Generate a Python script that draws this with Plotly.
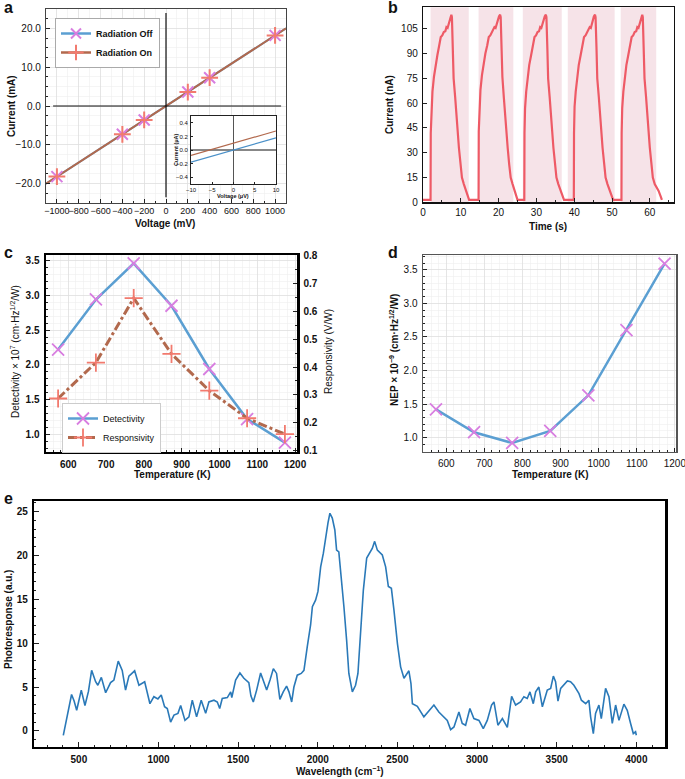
import plotly.graph_objects as go

FONT = "Liberation Sans, Arial, Helvetica, sans-serif"
W, H = 685, 779

# ---------------- data ----------------
# panel a
volt_line = [-1100, 1100]
curr_line = [-20.0, 20.0]
volt_pts = [-1000, -400, -200, 200, 400, 1000]
curr_pts = [-18.2, -7.3, -3.6, 3.6, 7.3, 18.2]
# inset
inset_v = [-10, 10]
inset_off = [-0.18, 0.18]
inset_on = [-0.08, 0.28]

# panel b
time_b = [0.0, 1.95,
          2.0, 2.05, 2.2, 2.5, 2.9, 3.3, 3.8, 4.3, 4.7, 5.1, 5.5, 5.9, 6.2, 6.5, 6.8, 7.1, 7.3, 7.5, 7.65, 7.9, 8.1, 8.5, 8.9, 9.2, 9.5, 9.9, 10.3, 10.8, 11.3, 11.8, 12.2,
          14.6,
          14.7, 14.75, 14.9, 15.2, 15.6, 16.0, 16.5, 17.0, 17.4, 17.8, 18.2, 18.6, 18.9, 19.2, 19.5, 19.8, 20.1, 20.4, 20.55, 20.8, 21.0, 21.4, 21.8, 22.1, 22.4, 22.8, 23.2, 23.7, 24.2, 24.6, 25.0,
          26.7,
          26.8, 26.85, 27.0, 27.3, 27.7, 28.1, 28.6, 29.1, 29.5, 29.9, 30.3, 30.7, 31.0, 31.3, 31.6, 31.9, 32.2, 32.5, 32.65, 32.9, 33.1, 33.5, 33.9, 34.2, 34.5, 34.9, 35.3, 35.8, 36.3, 36.8, 37.3,
          39.8,
          39.9, 39.95, 40.1, 40.4, 40.8, 41.2, 41.7, 42.2, 42.6, 43.0, 43.4, 43.8, 44.1, 44.4, 44.7, 45.0, 45.2, 45.5, 45.65, 45.9, 46.1, 46.5, 46.9, 47.2, 47.5, 47.9, 48.3, 48.8, 49.3, 49.8, 50.3,
          52.4,
          52.5, 52.55, 52.7, 53.0, 53.4, 53.8, 54.3, 54.8, 55.2, 55.6, 56.0, 56.4, 56.7, 57.0, 57.3, 57.6, 57.8, 58.0, 58.15, 58.4, 58.6, 59.0, 59.4, 59.7, 60.0, 60.4, 60.8, 61.3, 61.8, 62.3, 62.8, 63.2]
current_b = [1.5, 1.5,
             1.5, 42, 57, 67, 76, 83, 89, 95, 100, 101, 103, 103.5, 106, 105.5, 108.5, 110, 112.5, 113.5, 112, 93, 75, 64, 50, 38, 33, 24, 15, 11, 8, 4.5, 1.5,
             1.5,
             1.5, 43, 57, 68, 77, 84, 90, 95, 100, 101, 103, 104, 106, 105.5, 108, 110, 112.5, 113.5, 112, 92, 76, 63, 50, 39, 33, 23, 15, 11, 7.5, 4, 1.5,
             1.5,
             1.5, 42, 57, 67, 76, 83, 89, 95, 100, 101, 103, 103.5, 106, 105.5, 108.5, 110, 112.5, 113.5, 112, 93, 75, 64, 50, 38, 33, 24, 15, 11, 8, 4.5, 1.5,
             1.5,
             1.5, 42, 58, 67, 76, 83, 89, 95, 100, 101, 103, 104, 106, 105.5, 108.5, 110, 112.5, 113.5, 112, 93, 75, 64, 50, 38, 33, 24, 15, 11, 8, 4.5, 1.5,
             1.5,
             1.5, 42, 57, 67, 76, 83, 89, 95, 100, 101, 103, 103.5, 106, 105.5, 108.5, 110, 112.5, 113.5, 112, 93, 75, 64, 50, 38, 33, 24, 15, 11, 9, 7, 4, 1.5]
light_on = [2.0, 14.7, 26.4, 38.3, 52.3]
light_off = [12.1, 23.9, 36.7, 50.7, 61.7]

# panel c / d
temperature = [573, 673, 773, 873, 973, 1073, 1173]
detectivity = [2.22, 2.94, 3.46, 2.85, 1.94, 1.22, 0.88]
responsivity = [0.287, 0.416, 0.647, 0.447, 0.315, 0.216, 0.159]
nep = [1.42, 1.08, 0.92, 1.10, 1.63, 2.60, 3.59]

# panel e
wavenumber = [402, 454, 470, 486, 515, 538, 560, 580, 605, 619, 641, 668, 699, 720, 747, 772, 793, 814, 850,
              877, 913, 946, 971, 996, 1017, 1038, 1055, 1076, 1097, 1122, 1139, 1166, 1191, 1212, 1239, 1268,
              1296, 1316, 1348, 1369, 1384, 1400, 1432, 1453, 1460, 1484, 1511, 1536, 1567, 1580, 1595, 1616,
              1641, 1655, 1679, 1700, 1721, 1741, 1762, 1783, 1804, 1819, 1836, 1850, 1871, 1896, 1913, 1934,
              1955, 1966, 1986, 2001, 2018, 2035, 2049, 2064, 2076, 2091, 2107, 2118, 2132, 2143, 2164, 2181,
              2195, 2217, 2237, 2252, 2269, 2286, 2307, 2327, 2342, 2357, 2374, 2405, 2426, 2443, 2462, 2478,
              2500, 2520, 2541, 2572, 2585, 2594, 2625, 2666, 2698, 2729, 2760, 2792, 2813, 2834, 2855, 2886,
              2907, 2928, 2955, 2980, 3012, 3039, 3064, 3091, 3106, 3131, 3159, 3190, 3217, 3242, 3273, 3294,
              3315, 3332, 3353, 3368, 3388, 3410, 3441, 3462, 3479, 3493, 3508, 3525, 3545, 3567, 3587, 3608,
              3640, 3655, 3682, 3702, 3713, 3730, 3744, 3765, 3780, 3807, 3828, 3849, 3870, 3891, 3922, 3943,
              3964, 3981, 3995, 4000]
photoresponse = [-0.5, 4.15, 3.4, 2.36, 4.65, 2.9, 4.5, 6.9, 5.6, 5.2, 6.1, 4.35, 5.5, 5.8, 7.95, 6.9, 4.65, 6.25, 6.85,
                 5.2, 5.6, 3.1, 3.9, 3.65, 4.1, 2.75, 2.55, 1.0, 1.8, 2.0, 2.9, 1.2, 1.6, 3.5, 1.6, 3.5,
                 2.0, 3.3, 3.5, 3.3, 2.55, 3.7, 3.8, 4.45, 3.8, 5.8, 6.6, 6.0, 5.5, 4.0, 3.3, 4.65,
                 6.6, 5.8, 4.65, 5.8, 7.1, 6.55, 3.6, 4.45, 5.1, 4.45, 3.3, 5.0, 6.35, 6.55, 6.9, 9.6,
                 12.1, 14.15, 14.9, 15.9, 18.7, 20.25, 22.15, 23.7, 24.8, 24.25, 22.9, 20.6, 20.4, 18.35, 14.15, 10.35,
                 6.55, 4.45, 5.2, 6.55, 11.1, 16.05, 19.7, 20.25, 20.8, 21.6, 20.6, 20.05, 18.7, 16.45, 16.25, 13.8,
                 9.95, 7.3, 6.0, 6.85, 5.4, 3.1, 2.8, 1.6, 2.35, 2.95, 2.15, 1.6, 1.2, 0.15, 0.45, 2.15,
                 0.85, 0.65, 2.55, 1.4, 1.2, 0.25, 1.2, 2.95, 3.3, 0.65, 1.4, 0.4, 3.95, 2.95, 3.3, 3.9,
                 3.7, 4.45, 3.1, 4.45, 5.0, 2.75, 4.65, 4.85, 6.25, 5.6, 3.4, 4.85, 5.2, 5.7, 5.6, 5.2,
                 4.25, 3.5, 3.1, 3.5, 1.6, -0.3, 2.0, 2.95, 1.4, 4.85, 3.9, 0.85, 2.95, 1.2, 3.05, 2.35,
                 0.85, -0.3, -0.1, -0.5]

# ---------------- styling ----------------
BLUE = "#5b9fd2"
BROWN = "#b2694d"
ORCHID = "#d87ee0"
SALMON = "#f27a6e"
RED = "#ee5a66"
SPEC = "#2a79b8"
GRID = "#dedede"
MINOR_GRID = "#efefef"


def dom_x(p0, p1):
    return [p0 / W, p1 / W]


def dom_y(p0, p1):
    return [1 - p1 / H, 1 - p0 / H]


fig = go.Figure()

# ---- panel a ----
fig.add_trace(go.Scatter(x=volt_line, y=curr_line, mode="lines", line=dict(color=BLUE, width=2),
                         xaxis="x", yaxis="y", showlegend=False))
fig.add_trace(go.Scatter(x=volt_line, y=curr_line, mode="lines", line=dict(color=BROWN, width=2),
                         xaxis="x", yaxis="y", showlegend=False))
fig.add_trace(go.Scatter(x=volt_pts, y=curr_pts, mode="markers",
                         marker=dict(symbol="x-thin", size=11, line=dict(color=ORCHID, width=2)),
                         xaxis="x", yaxis="y", showlegend=False))
fig.add_trace(go.Scatter(x=volt_pts, y=curr_pts, mode="markers",
                         marker=dict(symbol="cross-thin", size=12, line=dict(color=SALMON, width=2)),
                         xaxis="x", yaxis="y", showlegend=False))
fig.add_trace(go.Scatter(x=[None], y=[None], mode="lines+markers", name="Radiation Off",
                         line=dict(color=BLUE, width=2.5),
                         marker=dict(symbol="x-thin", size=10, line=dict(color=ORCHID, width=2)),
                         xaxis="x", yaxis="y", legend="legend"))
fig.add_trace(go.Scatter(x=[None], y=[None], mode="lines+markers", name="Radiation On",
                         line=dict(color=BROWN, width=2.5),
                         marker=dict(symbol="cross-thin", size=11, line=dict(color=SALMON, width=2)),
                         xaxis="x", yaxis="y", legend="legend"))

# ---- panel b ----
fig.add_trace(go.Scatter(x=time_b, y=current_b, mode="lines", line=dict(color=RED, width=2.2),
                         xaxis="x2", yaxis="y2", showlegend=False))

# ---- panel c ----
fig.add_trace(go.Scatter(x=temperature, y=detectivity, mode="lines+markers", name="Detectivity",
                         line=dict(color=BLUE, width=2.5),
                         marker=dict(symbol="x-thin", size=12, line=dict(color=ORCHID, width=1.8)),
                         xaxis="x3", yaxis="y3", legend="legend2"))
fig.add_trace(go.Scatter(x=temperature, y=responsivity, mode="lines+markers", name="Responsivity",
                         line=dict(color=BROWN, width=3, dash="dashdot"),
                         marker=dict(symbol="cross-thin", size=13, line=dict(color=SALMON, width=1.8)),
                         xaxis="x3", yaxis="y4", legend="legend2"))

# ---- panel d ----
fig.add_trace(go.Scatter(x=temperature, y=nep, mode="lines+markers",
                         line=dict(color=BLUE, width=2.5),
                         marker=dict(symbol="x-thin", size=12, line=dict(color=ORCHID, width=1.8)),
                         xaxis="x4", yaxis="y5", showlegend=False))

# ---- panel e ----
fig.add_trace(go.Scatter(x=wavenumber, y=photoresponse, mode="lines", line=dict(color=SPEC, width=1.6),
                         xaxis="x5", yaxis="y6", showlegend=False))

# ---- inset ----
fig.add_trace(go.Scatter(x=inset_v, y=inset_off, mode="lines", line=dict(color="#4a90c8", width=1.2),
                         xaxis="x6", yaxis="y7", showlegend=False))
fig.add_trace(go.Scatter(x=inset_v, y=inset_on, mode="lines", line=dict(color=BROWN, width=1.2),
                         xaxis="x6", yaxis="y7", showlegend=False))

tickfont = dict(family=FONT, size=10, color="#111")
tickfont_b = dict(family=FONT, size=10, color="#111", weight="bold")
tickfont_s = dict(family=FONT, size=6, color="#111")


def ax(domain, rng, dtick, anchor, linecolor="#333", linewidth=1.2, grid=False, minor_dtick=None,
       font=tickfont, fmt=None, ticklen=4, side=None, mirror=True, tick0=None, standoff=2):
    d = dict(domain=domain, range=rng, dtick=dtick, anchor=anchor, showline=True, linecolor=linecolor,
             linewidth=linewidth, mirror=mirror, ticks="inside", ticklen=ticklen, tickwidth=1,
             tickcolor="#222", tickfont=font, showgrid=grid, gridcolor=GRID, gridwidth=0.8,
             zeroline=False, ticklabelstandoff=standoff, automargin=False, tickangle=0,
             ticklabeloverflow="allow")
    if tick0 is not None:
        d["tick0"] = tick0
    if fmt:
        d["tickformat"] = fmt
    if side:
        d["side"] = side
    if minor_dtick:
        d["minor"] = dict(dtick=minor_dtick, ticks="inside", ticklen=2, tickcolor="#222",
                          showgrid=grid, gridcolor=MINOR_GRID, gridwidth=0.6)
    return d


layout = dict(
    width=W, height=H, margin=dict(l=0, r=0, t=0, b=0, autoexpand=False),
    paper_bgcolor="white", plot_bgcolor="white",
    font=dict(family=FONT, size=10, color="#111"),
    # a
    xaxis=ax(dom_x(46, 286), [-1100, 1100], 200, "y", linecolor="#444", grid=True, minor_dtick=100, tick0=0,
             font=dict(family=FONT, size=9, color="#111"), standoff=-1),
    yaxis=ax(dom_y(9, 203), [-25, 25], 10, "x", linecolor="#444", grid=True, minor_dtick=2.5, fmt=".1f", tick0=0),
    # b
    xaxis2=ax(dom_x(423, 674), [0, 66.4], 10, "y2", linecolor="#111", minor_dtick=5, tick0=0, standoff=0),
    yaxis2=ax(dom_y(7.3, 202.3), [0, 118], 15, "x2", linecolor="#111", tick0=0),
    # c
    xaxis3=ax(dom_x(46, 297), [541, 1205], 100, "y3", linecolor="#000", linewidth=2.5, grid=True,
              minor_dtick=20, font=tickfont_b, tick0=0),
    yaxis3=ax(dom_y(255, 451.7), [0.75, 3.58], 0.5, "x3", linecolor="#000", linewidth=2.5, grid=True,
              minor_dtick=0.1, font=tickfont_b, fmt=".1f", tick0=0),
    yaxis4=dict(ax(dom_y(255, 451.7), [0.096, 0.802], 0.1, "x3", linecolor="#000", linewidth=2.5,
                   minor_dtick=0.05, font=tickfont_b, fmt=".1f", side="right", mirror=False, tick0=0),
                overlaying="y3"),
    # d
    xaxis4=ax(dom_x(423, 676), [539, 1203], 100, "y5", linecolor="#555", linewidth=1.5, grid=True,
              minor_dtick=20, tick0=0),
    yaxis5=ax(dom_y(255, 451.7), [0.79, 3.72], 0.5, "x4", linecolor="#555", linewidth=1.5, grid=True,
              minor_dtick=0.1, fmt=".1f", tick0=0),
    # e
    xaxis5=ax(dom_x(34.3, 665), [220, 4180], 500, "y6", linecolor="#000", linewidth=2.5, minor_dtick=100,
              font=tickfont_b, ticklen=5, tick0=0),
    yaxis6=ax(dom_y(501, 746.7), [-1.8, 26.2], 5, "x5", linecolor="#000", linewidth=2.5, minor_dtick=1,
              font=tickfont_b, ticklen=5, tick0=0),
    # inset
    xaxis6=ax(dom_x(191, 276), [-10, 10], 5, "y7", linecolor="#222", linewidth=1,
              font=tickfont_s, ticklen=2, tick0=0, standoff=0),
    yaxis7=ax(dom_y(116, 184), [-0.5, 0.5], 0.2, "x6", linecolor="#222", linewidth=1,
              font=tickfont_s, fmt=".1f", ticklen=2, tick0=0, standoff=1),
    legend=dict(x=55 / W, y=1 - 18 / H, xanchor="left", yanchor="top", bgcolor="white",
                bordercolor="#aaa", borderwidth=1, font=dict(family=FONT, size=9, weight="bold"),
                tracegroupgap=0, itemwidth=30),
    legend2=dict(x=62 / W, y=1 - 403 / H, xanchor="left", yanchor="top", bgcolor="white",
                 bordercolor="#ccc", borderwidth=1, font=dict(family=FONT, size=9),
                 tracegroupgap=0, itemwidth=30),
)
fig.update_layout(**layout)

shapes = []
# inset white background
shapes.append(dict(type="rect", xref="x6", yref="y7", x0=-10, x1=10, y0=-0.5, y1=0.5,
                   fillcolor="white", line=dict(width=0), layer="below"))
# crosshair lines panel a
shapes.append(dict(type="line", xref="x", yref="y", x0=-1035, x1=1055, y0=0, y1=0,
                   line=dict(color="#111", width=1.2), layer="above"))
shapes.append(dict(type="line", xref="x", yref="y", x0=0, x1=0, y0=-23.5, y1=24,
                   line=dict(color="#111", width=1.2), layer="above"))
# inset crosshair
shapes.append(dict(type="line", xref="x6", yref="y7", x0=-10, x1=10, y0=0, y1=0,
                   line=dict(color="#111", width=1), layer="below"))
shapes.append(dict(type="line", xref="x6", yref="y7", x0=0, x1=0, y0=-0.5, y1=0.5,
                   line=dict(color="#555", width=1), layer="below"))
# light-on shading panel b
for t0, t1 in zip(light_on, light_off):
    shapes.append(dict(type="rect", xref="x2", yref="y2 domain", x0=t0, x1=t1, y0=0, y1=1,
                       fillcolor="#f6e3e8", line=dict(width=0), layer="below"))
fig.update_layout(shapes=shapes)

ann = []


def label(text, px, py, size=10, bold=True, angle=0, xanchor="center", yanchor="middle"):
    t = f"<b>{text}</b>" if bold else text
    ann.append(dict(text=t, x=px / W, y=1 - py / H, xref="paper", yref="paper", showarrow=False,
                    textangle=angle, xanchor=xanchor, yanchor=yanchor,
                    font=dict(family=FONT, size=size, color="#111")))


# panel letters
label("a", 2, 8, size=16, xanchor="left")
label("b", 386, 8, size=16, xanchor="left")
label("c", 2, 252, size=16, xanchor="left")
label("d", 386, 252, size=16, xanchor="left")
label("e", 2, 498, size=16, xanchor="left")
# axis titles
label("Voltage (mV)", 165, 223)
label("Current (mA)", 12, 106, angle=-90)
label("Time (s)", 548, 226)
label("Current (nA)", 389, 105, angle=-90)
label("Temperature (K)", 172, 474)
label("Detectivity × 10<sup>7</sup> (cm·Hz<sup>1/2</sup>/W)", 15, 352, bold=False, angle=-90)
label("Responsivity (V/W)", 328, 352, bold=False, angle=-90)
label("Temperature (K)", 550, 474)
label("NEP × 10<sup>−9</sup> (cm·Hz<sup>1/2</sup>/W)", 394, 350, angle=-90)
label("Photoresponse (a.u.)", 8, 620, angle=-90)
label("Wavelength (cm<sup>−1</sup>)", 340, 771)
label("Voltage (μV)", 233, 196, size=5.5)
label("Current (μA)", 176, 150, size=5.5, angle=-90)
fig.update_layout(annotations=ann)

fig.write_html("out.html",
               config={"displayModeBar": False, "staticPlot": True},
               post_script="document.body.style.margin='0';document.body.style.padding='0';"
                           "document.body.style.overflow='hidden';")
